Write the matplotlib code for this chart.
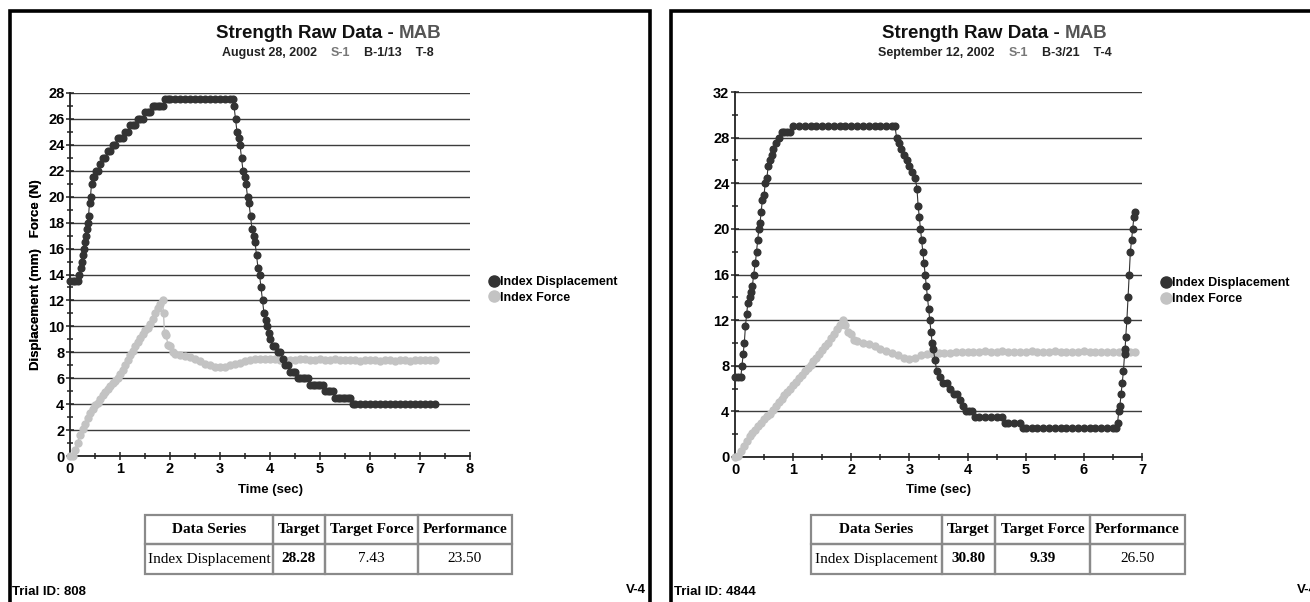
import matplotlib
matplotlib.use("Agg")
import matplotlib.pyplot as plt
from matplotlib.patches import Rectangle
from matplotlib.lines import Line2D
from matplotlib.ticker import MultipleLocator

W, H = 1310, 602
NARROW = ['Liberation Sans', 'DejaVu Sans']
SANS = ['Liberation Sans', 'DejaVu Sans']
SERIF = ['Liberation Serif', 'DejaVu Serif']
DARK = '#333333'
LIGHT = '#c3c3c3'

# ---- panel 1 : August 28, 2002 ----
t_disp1 = [0.00, 0.05, 0.10, 0.15, 0.18, 0.21, 0.23, 0.25, 0.27, 0.29, 0.31, 0.33, 0.35, 0.37,
           0.39, 0.41, 0.43, 0.45, 0.48, 0.51, 0.55, 0.60, 0.65, 0.70, 0.75, 0.80, 0.85, 0.90,
           0.95, 1.00, 1.05, 1.10, 1.15, 1.20, 1.25, 1.30, 1.35, 1.40, 1.45, 1.50, 1.55, 1.60,
           1.65, 1.70, 1.75, 1.80, 1.85, 1.90, 1.95, 2.0, 2.1, 2.2, 2.3, 2.4, 2.5, 2.6, 2.7,
           2.8, 2.9, 3.0, 3.1, 3.2, 3.25, 3.28, 3.31, 3.34, 3.37, 3.40, 3.43, 3.46, 3.49, 3.52,
           3.55, 3.58, 3.61, 3.64, 3.67, 3.70, 3.73, 3.76, 3.79, 3.82, 3.85, 3.88, 3.91, 3.94,
           3.97, 4.00, 4.05, 4.10, 4.15, 4.20, 4.25, 4.30, 4.35, 4.40, 4.45, 4.50, 4.55, 4.60,
           4.65, 4.70, 4.75, 4.80, 4.85, 4.90, 4.95, 5.00, 5.05, 5.10, 5.15, 5.20, 5.25, 5.30,
           5.35, 5.40, 5.45, 5.50, 5.55, 5.60, 5.65, 5.7, 5.8, 5.9, 6.0, 6.1, 6.2, 6.3, 6.4,
           6.5, 6.6, 6.7, 6.8, 6.9, 7.0, 7.1, 7.2, 7.3]
disp1 = [13.5, 13.5, 13.5, 13.5, 14.0, 14.5, 15.0, 15.5, 16.0, 16.5, 17.0, 17.5, 18.0, 18.5,
         19.5, 20.0, 21.0, 21.5, 21.5, 22.0, 22.0, 22.5, 23.0, 23.0, 23.5, 23.5, 24.0, 24.0,
         24.5, 24.5, 24.5, 25.0, 25.0, 25.5, 25.5, 25.5, 26.0, 26.0, 26.0, 26.5, 26.5, 26.5,
         27.0, 27.0, 27.0, 27.0, 27.0, 27.5, 27.5, 27.5, 27.5, 27.5, 27.5, 27.5, 27.5, 27.5, 27.5,
         27.5, 27.5, 27.5, 27.5, 27.5, 27.5, 27.0, 26.0, 25.0, 24.5, 24.0, 23.0, 22.0, 21.5, 21.0,
         20.0, 19.5, 18.5, 17.5, 17.0, 16.5, 15.5, 14.5, 14.0, 13.0, 12.0, 11.0, 10.5, 10.0,
         9.5, 9.0, 8.5, 8.5, 8.0, 8.0, 7.5, 7.0, 7.0, 6.5, 6.5, 6.5, 6.0, 6.0,
         6.0, 6.0, 6.0, 5.5, 5.5, 5.5, 5.5, 5.5, 5.5, 5.0, 5.0, 5.0, 5.0, 4.5,
         4.5, 4.5, 4.5, 4.5, 4.5, 4.5, 4.0, 4.0, 4.0, 4.0, 4.0, 4.0, 4.0, 4.0, 4.0,
         4.0, 4.0, 4.0, 4.0, 4.0, 4.0, 4.0, 4.0, 4.0]

t_force1 = [0.00, 0.05, 0.10, 0.15, 0.20, 0.25, 0.30, 0.35, 0.40, 0.45, 0.50, 0.55, 0.60, 0.65,
            0.70, 0.75, 0.80, 0.85, 0.90, 0.95, 1.00, 1.05, 1.10, 1.15, 1.20, 1.25, 1.30, 1.35,
            1.40, 1.45, 1.50, 1.55, 1.60, 1.65, 1.70, 1.75, 1.80, 1.85, 1.87, 1.89, 1.92, 1.96,
            2.00, 2.05, 2.10, 2.20, 2.30, 2.40, 2.50, 2.60, 2.70, 2.80, 2.90, 3.00, 3.10, 3.20,
            3.30, 3.40, 3.50, 3.60, 3.70, 3.80, 3.90, 4.00, 4.10, 4.20, 4.30, 4.40, 4.50, 4.60,
            4.70, 4.80, 4.90, 5.00, 5.10, 5.20, 5.30, 5.40, 5.50, 5.60, 5.70, 5.80, 5.90, 6.00,
            6.10, 6.20, 6.30, 6.40, 6.50, 6.60, 6.70, 6.80, 6.90, 7.00, 7.10, 7.20, 7.30]
force1 = [0.0, 0.0, 0.5, 1.0, 1.6, 2.1, 2.5, 2.9, 3.3, 3.6, 3.9, 4.1, 4.4, 4.7,
          4.9, 5.2, 5.4, 5.6, 5.8, 6.0, 6.3, 6.6, 7.0, 7.4, 7.8, 8.1, 8.5, 8.8,
          9.1, 9.4, 9.7, 9.9, 10.2, 10.6, 11.0, 11.4, 11.7, 12.0, 11.0, 9.5, 9.3, 8.6,
          8.5, 8.0, 7.9, 7.8, 7.7, 7.6, 7.5, 7.3, 7.1, 7.0, 6.9, 6.9, 6.9, 7.0,
          7.1, 7.2, 7.3, 7.4, 7.5, 7.5, 7.5, 7.5, 7.45, 7.4, 7.4, 7.4, 7.4, 7.45,
          7.45, 7.4, 7.4, 7.45, 7.4, 7.4, 7.45, 7.4, 7.4, 7.4, 7.4, 7.35, 7.4, 7.4,
          7.4, 7.35, 7.4, 7.4, 7.35, 7.4, 7.4, 7.35, 7.4, 7.4, 7.4, 7.4, 7.4]

# ---- panel 2 : September 12, 2002 ----
t_disp2 = [0.00, 0.05, 0.10, 0.12, 0.14, 0.16, 0.18, 0.20, 0.22, 0.25, 0.28, 0.30, 0.32, 0.35,
           0.37, 0.39, 0.41, 0.43, 0.45, 0.47, 0.50, 0.52, 0.55, 0.57, 0.60, 0.63, 0.66, 0.70,
           0.75, 0.80, 0.85, 0.90, 0.95, 1.00, 1.1, 1.2, 1.3, 1.4, 1.5, 1.6, 1.7, 1.8, 1.9, 2.0,
           2.1, 2.2, 2.3, 2.4, 2.5, 2.6, 2.7, 2.75, 2.78, 2.82, 2.86, 2.90, 2.95, 3.00, 3.05,
           3.10, 3.13, 3.15, 3.17, 3.19, 3.21, 3.23, 3.25, 3.27, 3.29, 3.31, 3.33, 3.35, 3.37,
           3.39, 3.41, 3.44, 3.47, 3.52, 3.57, 3.64, 3.70, 3.76, 3.82, 3.87, 3.92, 3.97, 4.02,
           4.08, 4.12, 4.2, 4.3, 4.4, 4.5, 4.6, 4.65, 4.7, 4.8, 4.9, 4.95, 5.0, 5.1, 5.2, 5.3,
           5.4, 5.5, 5.6, 5.7, 5.8, 5.9, 6.0, 6.1, 6.2, 6.3, 6.4, 6.5, 6.55, 6.58, 6.60, 6.62,
           6.64, 6.66, 6.68, 6.70, 6.71, 6.72, 6.74, 6.76, 6.78, 6.80, 6.82, 6.84, 6.86, 6.88]
disp2 = [7.0, 7.0, 7.0, 8.0, 9.0, 10.0, 11.5, 12.5, 13.5, 14.0, 14.5, 15.0, 16.0, 17.0,
         18.0, 19.0, 20.0, 20.5, 21.5, 22.5, 23.0, 24.0, 24.5, 25.5, 26.0, 26.5, 27.0, 27.5,
         28.0, 28.5, 28.5, 28.5, 28.5, 29.0, 29.0, 29.0, 29.0, 29.0, 29.0, 29.0, 29.0, 29.0, 29.0, 29.0,
         29.0, 29.0, 29.0, 29.0, 29.0, 29.0, 29.0, 29.0, 28.0, 27.5, 27.0, 26.5, 26.0, 25.5, 25.0,
         24.5, 23.5, 22.0, 21.0, 20.0, 19.0, 18.0, 17.0, 16.0, 15.0, 14.0, 13.0, 12.0, 11.0,
         10.0, 9.5, 8.5, 7.5, 7.0, 6.5, 6.5, 6.0, 5.5, 5.5, 5.0, 4.5, 4.0, 4.0,
         4.0, 3.5, 3.5, 3.5, 3.5, 3.5, 3.5, 3.0, 3.0, 3.0, 3.0, 2.5, 2.5, 2.5, 2.5, 2.5,
         2.5, 2.5, 2.5, 2.5, 2.5, 2.5, 2.5, 2.5, 2.5, 2.5, 2.5, 2.5, 2.5, 3.0, 4.0, 4.5,
         5.5, 6.5, 7.5, 9.0, 9.5, 10.5, 12.0, 14.0, 16.0, 18.0, 19.0, 20.0, 21.0, 21.5]

t_force2 = [0.00, 0.05, 0.10, 0.15, 0.20, 0.25, 0.30, 0.35, 0.40, 0.45, 0.50, 0.55, 0.60, 0.65,
            0.70, 0.75, 0.80, 0.85, 0.90, 0.95, 1.00, 1.05, 1.10, 1.15, 1.20, 1.25, 1.30, 1.35,
            1.40, 1.45, 1.50, 1.55, 1.60, 1.65, 1.70, 1.75, 1.80, 1.85, 1.90, 1.95, 2.00, 2.05,
            2.10, 2.20, 2.30, 2.40, 2.50, 2.60, 2.70, 2.80, 2.90, 3.00, 3.10, 3.20, 3.30, 3.40,
            3.50, 3.60, 3.70, 3.80, 3.90, 4.00, 4.10, 4.20, 4.30, 4.40, 4.50, 4.60, 4.70, 4.80,
            4.90, 5.00, 5.10, 5.20, 5.30, 5.40, 5.50, 5.60, 5.70, 5.80, 5.90, 6.00, 6.10, 6.20,
            6.30, 6.40, 6.50, 6.60, 6.70, 6.80, 6.88]
force2 = [0.0, 0.1, 0.5, 1.0, 1.4, 1.8, 2.1, 2.4, 2.7, 3.0, 3.3, 3.6, 3.8, 4.1,
          4.5, 4.8, 5.1, 5.4, 5.7, 6.0, 6.3, 6.6, 6.9, 7.2, 7.5, 7.8, 8.1, 8.4,
          8.7, 9.0, 9.4, 9.7, 10.0, 10.4, 10.8, 11.2, 11.6, 12.0, 11.6, 11.0, 10.8, 10.3,
          10.2, 10.0, 9.9, 9.7, 9.5, 9.3, 9.1, 8.9, 8.7, 8.6, 8.7, 8.9, 9.0, 9.0,
          9.1, 9.1, 9.1, 9.2, 9.2, 9.2, 9.2, 9.2, 9.25, 9.2, 9.2, 9.25, 9.2, 9.2,
          9.2, 9.2, 9.25, 9.2, 9.2, 9.2, 9.25, 9.2, 9.2, 9.2, 9.2, 9.25, 9.2, 9.2,
          9.2, 9.2, 9.2, 9.2, 9.2, 9.2, 9.2]

table_header = ["Data Series", "Target", "Target Force", "Performance"]
table_row1 = ["Index Displacement", "28.28", "7.43", "23.50"]
table_row2 = ["Index Displacement", "30.80", "9.39", "26.50"]

fig = plt.figure(figsize=(W / 100, H / 100), dpi=100)
fig.patch.set_facecolor('white')


def fx(px):
    return px / W


def fy(py):
    return 1 - py / H


def pieces_text(cx, py, pieces, size, family, weight='bold'):
    # several coloured pieces of text, centred as one line
    r = fig.canvas.get_renderer()
    objs = []
    for s, c in pieces:
        t = fig.text(0, fy(py), s, color=c, fontsize=size, family=family,
                     fontweight=weight, va='center', ha='left')
        objs.append(t)
    widths = [o.get_window_extent(r).width for o in objs]
    x = cx - sum(widths) / 2
    for o, w in zip(objs, widths):
        o.set_x(fx(x))
        x += w


def draw_table(xs, ys, header, row, bold_cols):
    for i in range(len(xs) - 1):
        for j in range(len(ys) - 1):
            fig.patches.append(Rectangle((fx(xs[i]), fy(ys[j + 1])), fx(xs[i + 1] - xs[i]),
                                         (ys[j + 1] - ys[j]) / H, transform=fig.transFigure,
                                         fill=False, edgecolor='#8a8a8a', lw=1.6))
        cx = (xs[i] + xs[i + 1]) / 2
        fig.text(fx(cx), fy((ys[0] + ys[1]) / 2), header[i], ha='center', va='center',
                 family=SERIF, fontsize=11, fontweight='bold')
        fig.text(fx(cx), fy((ys[1] + ys[2]) / 2), row[i], ha='center', va='center',
                 family=SERIF, fontsize=11,
                 fontweight='bold' if i in bold_cols else 'normal')


def draw_panel(box, ymax, ymaj, ymin, xmax, t_d, d, t_f, f, leg_xy):
    ax = fig.add_axes([fx(box[0]), fy(box[3]), fx(box[2] - box[0]), (box[3] - box[1]) / H])
    ax.plot(t_d, d, color=DARK, lw=0.8, marker='o', ms=4.8, mec=DARK, mfc=DARK,
            clip_on=False, zorder=4)
    ax.plot(t_f, f, color=LIGHT, lw=1.0, marker='o', ms=5.0, mec=LIGHT, mfc=LIGHT,
            clip_on=False, zorder=3)
    ax.set_xlim(0, xmax)
    ax.set_ylim(0, ymax)
    ax.xaxis.set_major_locator(MultipleLocator(1))
    ax.xaxis.set_minor_locator(MultipleLocator(0.5))
    ax.yaxis.set_major_locator(MultipleLocator(ymaj))
    ax.yaxis.set_minor_locator(MultipleLocator(ymin))
    ax.grid(axis='y', which='major', color='#3c3c3c', lw=1.0)
    ax.set_axisbelow(True)
    for s in ['top', 'right']:
        ax.spines[s].set_visible(False)
    for s in ['left', 'bottom']:
        ax.spines[s].set_color('#222222')
        ax.spines[s].set_linewidth(1.3)
    ax.tick_params(which='both', direction='inout', color='#222222', width=1.1)
    ax.tick_params(which='major', length=6, pad=1)
    ax.tick_params(which='minor', length=5)
    for lab in ax.get_xticklabels() + ax.get_yticklabels():
        lab.set_family(NARROW)
        lab.set_fontweight('bold')
        lab.set_fontsize(10.5)
    ax.set_xlabel("Time (sec)", family=NARROW, fontweight='bold', fontsize=9.5)
    ax.xaxis.set_label_coords(0.5, -(484 - box[3]) / (box[3] - box[1]))
    ax.set_ylabel("Displacement (mm)   Force (N)", family=NARROW, fontweight='bold',
                  fontsize=9.5)
    ax.yaxis.set_label_coords(-(box[0] - 42) / (box[2] - box[0]), 0.5)
    handles = [Line2D([], [], ls='none', marker='o', ms=8, color=DARK),
               Line2D([], [], ls='none', marker='o', ms=8, color=LIGHT)]
    fig.legend(handles, ["Index Displacement", "Index Force"], loc='center left',
               bbox_to_anchor=(fx(leg_xy[0]), fy(leg_xy[1])), frameon=False,
               handletextpad=0.0, handlelength=1.0, labelspacing=0.3, borderaxespad=0,
               borderpad=0, prop={'family': NARROW, 'weight': 'bold', 'size': 9})
    return ax


# panel frames
fig.patches.append(Rectangle((fx(9.5), fy(640)), fx(640.5), (640 - 11) / H,
                             transform=fig.transFigure, fill=False, edgecolor='black', lw=2.6))
fig.patches.append(Rectangle((fx(671), fy(640)), fx(700), (640 - 11) / H,
                             transform=fig.transFigure, fill=False, edgecolor='black', lw=2.6))

draw_panel((70, 93, 470, 456), 28, 2, 1, 8, t_disp1, disp1, t_force1, force1, (488, 290))
draw_panel((735, 92, 1142, 457), 32, 4, 2, 7, t_disp2, disp2, t_force2, force2, (1160, 291))

pieces_text(329, 33, [("Strength Raw Data - ", '#111111'), ("MAB", '#555555')], 13.5, SANS)
pieces_text(328, 53, [("August 28, 2002    ", '#222222'), ("S-1", '#777777'),
                      ("    B-1/13    T-8", '#222222')], 9, NARROW)
pieces_text(995, 33, [("Strength Raw Data - ", '#111111'), ("MAB", '#555555')], 13.5, SANS)
pieces_text(995, 53, [("September 12, 2002    ", '#222222'), ("S-1", '#777777'),
                      ("    B-3/21    T-4", '#222222')], 9, NARROW)

draw_table([145, 273, 325, 418, 512], [515, 544, 574], table_header, table_row1, [1])
draw_table([811, 942, 995, 1090, 1185], [515, 544, 574], table_header, table_row2, [1, 2])

fig.text(fx(12), fy(592), "Trial ID: 808", family=NARROW, fontweight='bold', fontsize=9.5,
         va='center', ha='left')
fig.text(fx(646), fy(590), "V-4", family=NARROW, fontweight='bold', fontsize=9.5,
         va='center', ha='right')
fig.text(fx(674), fy(592), "Trial ID: 4844", family=NARROW, fontweight='bold', fontsize=9.5,
         va='center', ha='left')
fig.text(fx(1297), fy(590), "V-4", family=NARROW, fontweight='bold', fontsize=9.5,
         va='center', ha='left')

fig.savefig("out.png", dpi=100)
